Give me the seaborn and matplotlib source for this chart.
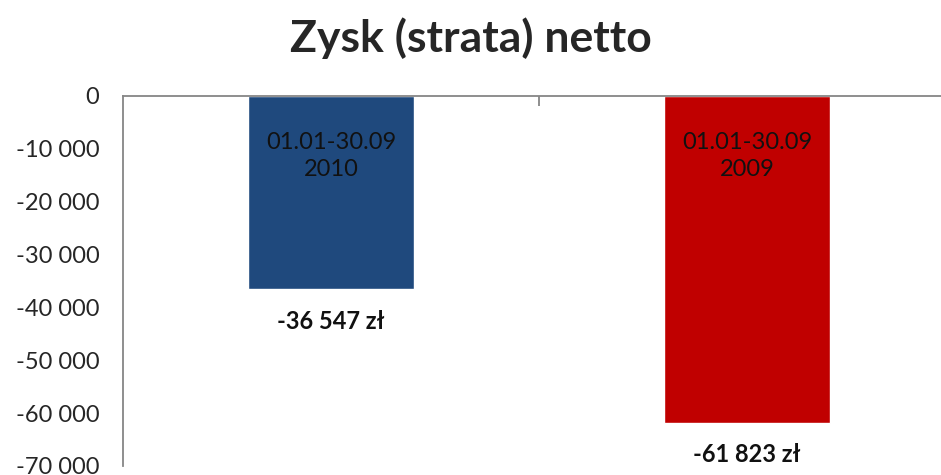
import pandas as pd
import matplotlib
matplotlib.use("Agg")
import matplotlib.pyplot as plt
import seaborn as sns

# dane
okresy = ["01.01-30.09\n2010", "01.01-30.09\n2009"]
zysk = [-36547, -61823]
kolory = ["#1F497D", "#C00000"]
yticks = [0, -10000, -20000, -30000, -40000, -50000, -60000, -70000]

df = pd.DataFrame({"okres": okresy, "zysk": zysk})

sns.set_style("white")
plt.rcParams["font.family"] = ["Lato", "DejaVu Sans"]

fig = plt.figure(figsize=(9.41, 4.75), dpi=100)
ax = fig.add_axes([123 / 941, 1 - 466 / 475, 1 - 123 / 941, (466 - 96) / 475])

sns.barplot(data=df, x="okres", y="zysk", hue="okres", palette=kolory,
            width=0.4, legend=False, ax=ax, saturation=1)

ax.set_ylim(-70000, 0)
ax.set_xlim(-0.5, (941 - 331) / 416)
ax.set_yticks(yticks)
ax.set_yticklabels([f"{v:,}".replace(",", " ") for v in yticks], fontsize=17)
ax.tick_params(axis="y", direction="out", length=7, color="#868686", pad=10)

# os x na gorze (linia zera)
ax.xaxis.tick_top()
ax.set_xticks([0.5])
ax.set_xticklabels([])
ax.tick_params(axis="x", direction="in", length=7, color="#868686", width=1.3)
ax.set_xlabel("")
ax.set_ylabel("")

for s in ["bottom", "right"]:
    ax.spines[s].set_visible(False)
for s in ["top", "left"]:
    ax.spines[s].set_color("#868686")
    ax.spines[s].set_linewidth(1.3)

# etykiety
for i, (okr, v) in enumerate(zip(okresy, zysk)):
    ax.text(i, -11350, okr, ha="center", va="center", fontsize=17, color="#111111",
            linespacing=1.3)
    ax.annotate(f"{v:,} zł".replace(",", " "), (i, v), xytext=(0, -23),
                textcoords="offset points", ha="center", va="center",
                fontsize=17, fontweight="bold", color="#111111")

fig.suptitle("Zysk (strata) netto", fontsize=32, fontweight="bold", y=0.963)

plt.savefig("out.png", dpi=100)
plt.close()
